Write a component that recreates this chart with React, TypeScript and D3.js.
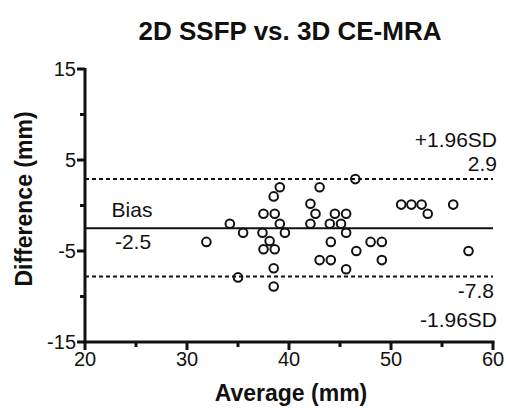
import React from "react";
import * as d3 from "d3";

const averages = [31.9, 34.2, 35.0, 35.5, 37.4, 37.5, 37.5, 38.1, 38.5, 38.5, 38.5, 38.6, 38.6, 39.1, 39.1, 39.6, 42.1, 42.1, 42.6, 43.0, 43.0, 44.0, 44.1, 44.1, 44.5, 45.1, 45.6, 45.6, 45.6, 46.5, 46.6, 48.0, 49.1, 49.1, 51.0, 52.0, 53.0, 53.6, 56.1, 57.6];
const differences = [-4.0, -2.0, -7.9, -3.0, -3.0, -0.9, -4.8, -3.9, 1.0, -6.9, -8.9, -0.9, -4.8, 2.0, -2.0, -3.0, 0.2, -2.0, -0.9, 2.0, -6.0, -2.0, -4.0, -6.0, -0.9, -2.0, -0.9, -3.0, -7.0, 2.9, -5.0, -4.0, -4.0, -6.0, 0.1, 0.1, 0.1, -0.9, 0.1, -5.0];
const xTicks = [20, 30, 40, 50, 60];
const xMinorTicks = [25, 35, 45, 55];
const yTicks = [-15, -5, 5, 15];
const yMinorTicks = [-10, 0, 10];
const bias = -2.5;
const upperLoA = 2.9;
const lowerLoA = -7.8;
const title = "2D SSFP vs. 3D CE-MRA";
const xLabel = "Average (mm)";
const yLabel = "Difference (mm)";

const W = 506, H = 412;
const FONT = "'Liberation Sans', Arial, Helvetica, sans-serif";

export default function App() {
  const x = d3.scaleLinear().domain([20, 60]).range([85, 493]);
  const y = d3.scaleLinear().domain([-15, 15]).range([342, 69]);
  const x0 = x(20), x1 = x(60), yb = y(-15);
  return (
    <svg width={W} height={H} style={{ position: "absolute", left: 0, top: 0, background: "#fff" }} fontFamily={FONT}>
      <rect width={W} height={H} fill="#fff" />
      <text x={290} y={40} textAnchor="middle" fontSize={26} fontWeight="bold" fill="#111">{title}</text>
      {/* reference lines */}
      <line x1={x0} x2={x1} y1={y(upperLoA)} y2={y(upperLoA)} stroke="#111" strokeWidth={2} strokeDasharray="4,3" />
      <line x1={x0} x2={x1} y1={y(lowerLoA)} y2={y(lowerLoA)} stroke="#111" strokeWidth={2} strokeDasharray="4,3" />
      <line x1={x0} x2={x1} y1={y(bias)} y2={y(bias)} stroke="#111" strokeWidth={2} />
      {/* points */}
      {averages.map((a, i) => (
        <circle key={i} cx={x(a)} cy={y(differences[i])} r={4.3} fill="none" stroke="#111" strokeWidth={2} />
      ))}
      {/* annotations */}
      <text x={497} y={147} textAnchor="end" fontSize={21} fill="#111">+1.96SD</text>
      <text x={497} y={171} textAnchor="end" fontSize={21} fill="#111">{upperLoA.toFixed(1)}</text>
      <text x={132} y={217} textAnchor="middle" fontSize={21} fill="#111">Bias</text>
      <text x={133} y={249} textAnchor="middle" fontSize={21} fill="#111">{bias.toFixed(1)}</text>
      <text x={494} y={298} textAnchor="end" fontSize={21} fill="#111">{lowerLoA.toFixed(1)}</text>
      <text x={497} y={327} textAnchor="end" fontSize={21} fill="#111">-1.96SD</text>
      {/* axes */}
      <line x1={x0} x2={x0} y1={y(15) - 1} y2={yb + 1.5} stroke="#111" strokeWidth={3} />
      <line x1={x0 - 1.5} x2={x1 + 1.5} y1={yb} y2={yb} stroke="#111" strokeWidth={3} />
      {yTicks.map((t) => (
        <g key={"yt" + t}>
          <line x1={x0 - 8} x2={x0} y1={y(t)} y2={y(t)} stroke="#111" strokeWidth={3} />
          <text x={x0 - 9} y={y(t)} dy="0.35em" textAnchor="end" fontSize={20} fill="#111">{t}</text>
        </g>
      ))}
      {yMinorTicks.map((t) => (
        <line key={"ym" + t} x1={x0 - 5} x2={x0} y1={y(t)} y2={y(t)} stroke="#111" strokeWidth={3} />
      ))}
      {xTicks.map((t) => (
        <g key={"xt" + t}>
          <line x1={x(t)} x2={x(t)} y1={yb} y2={yb + 8} stroke="#111" strokeWidth={3} />
          <text x={x(t)} y={yb + 24} textAnchor="middle" fontSize={20} fill="#111">{t}</text>
        </g>
      ))}
      {xMinorTicks.map((t) => (
        <line key={"xm" + t} x1={x(t)} x2={x(t)} y1={yb} y2={yb + 5} stroke="#111" strokeWidth={3} />
      ))}
      <text x={291} y={401} textAnchor="middle" fontSize={23} fontWeight="bold" fill="#111">{xLabel}</text>
      <text transform={`translate(32,199) rotate(-90)`} textAnchor="middle" fontSize={23} fontWeight="bold" fill="#111">{yLabel}</text>
    </svg>
  );
}
